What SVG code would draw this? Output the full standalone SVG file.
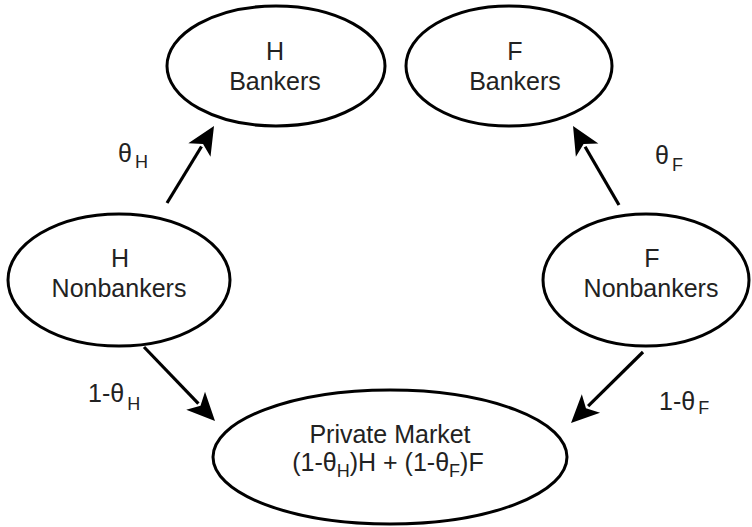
<svg xmlns="http://www.w3.org/2000/svg" width="752" height="527" viewBox="0 0 752 527">
<defs>
<style>
.node ellipse{fill:#fff;stroke:#000;stroke-width:3}
text{font-family:"Liberation Sans",Arial,sans-serif;font-size:25px;fill:#222;text-anchor:middle}
.lbl{text-anchor:start}
.sub{font-size:18px}
#connectors line{stroke:#000;stroke-width:3.2;marker-end:url(#ah)}
</style>
<marker id="ah" markerUnits="userSpaceOnUse" markerWidth="50" markerHeight="50" viewBox="-15 -25 50 50" refX="0" refY="0" orient="auto">
<path d="M24,0 L-4,-13 L3,0 L-4,13 Z" fill="#000"/>
</marker>
</defs>
<rect width="752" height="527" fill="#fff"/>
<g id="connectors">
<line x1="167" y1="203" x2="201.5" y2="146.5"/>
<line x1="619" y1="205" x2="585.1" y2="146.7"/>
<line x1="144" y1="347" x2="198.4" y2="403.7"/>
<line x1="643" y1="352" x2="588.1" y2="406.2"/>
</g>
<g id="h-bankers" class="node">
<ellipse cx="276" cy="66" rx="109" ry="60"/>
<text x="275" y="60">H</text>
<text x="275" y="90">Bankers</text>
</g>
<g id="f-bankers" class="node">
<ellipse cx="509" cy="66" rx="103" ry="60"/>
<text x="515" y="60">F</text>
<text x="515" y="90">Bankers</text>
</g>
<g id="h-nonbankers" class="node">
<ellipse cx="119" cy="280" rx="111" ry="66"/>
<text x="120" y="267">H</text>
<text x="119" y="297">Nonbankers</text>
</g>
<g id="f-nonbankers" class="node">
<ellipse cx="646" cy="280" rx="103" ry="66"/>
<text x="652" y="267">F</text>
<text x="651" y="297">Nonbankers</text>
</g>
<g id="private-market" class="node">
<ellipse cx="390" cy="457" rx="177" ry="67"/>
<text x="390" y="443">Private Market</text>
<text x="388" y="471">(1-θ<tspan class="sub" dy="6">H</tspan><tspan dy="-6">)H + (1-θ</tspan><tspan class="sub" dy="6">F</tspan><tspan dy="-6">)F</tspan></text>
</g>
<g id="labels">
<text class="lbl" x="118" y="162">θ<tspan class="sub" dx="3" dy="6">H</tspan></text>
<text class="lbl" x="655" y="164">θ<tspan class="sub" dx="3" dy="7">F</tspan></text>
<text class="lbl" x="88" y="402">1-θ<tspan class="sub" dx="3" dy="8">H</tspan></text>
<text class="lbl" x="659" y="410">1-θ<tspan class="sub" dx="3" dy="4">F</tspan></text>
</g>
</svg>
